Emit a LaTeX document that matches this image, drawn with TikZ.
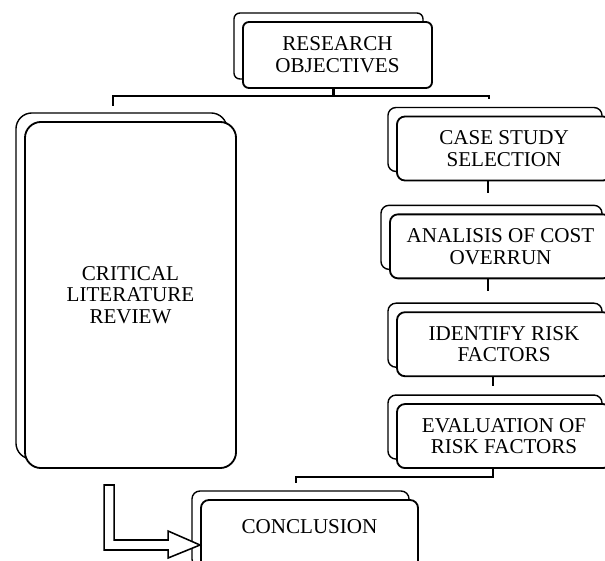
\documentclass[tikz,border=0pt]{standalone}
\usepackage{fontspec}
\setmainfont{Liberation Serif}
\usetikzlibrary{positioning,shadows}

\begin{document}
\begin{tikzpicture}[x=0.025cm, y=-0.025cm,
stackbox/.style={rectangle, draw=black, fill=white, line width=1.3pt, rounded corners=0.2cm, inner sep=0pt, align=center, font=\fontsize{15}{15.5}\selectfont,
  copy shadow={shadow xshift=-0.225cm, shadow yshift=0.225cm, draw=black, fill=white, line width=1pt}},
stepbox/.style={stackbox, minimum width=5.35cm, minimum height=1.6cm},
link/.style={draw=black, line width=2pt},
hollowarrow/.style={draw=black, fill=white, line width=1.1pt, line join=miter},
]
\path[use as bounding box, clip] (0,0) rectangle (605,560);
%Nodes
\node[stackbox, rounded corners=0.15cm, minimum width=4.725cm, minimum height=1.65cm] (Obj) at (337.5,55) {RESEARCH\\OBJECTIVES};
\node[stackbox, rounded corners=0.4cm, minimum width=5.275cm, minimum height=8.65cm] (Review) at (130.5,295) {CRITICAL\\LITERATURE\\REVIEW};
\node[stepbox] (Case) at (504,148.5) {CASE STUDY\\SELECTION};
\node[stepbox, minimum width=5.525cm] (Overrun) [below=0.8cm of Case, xshift=-0.0875cm] {ANALISIS OF COST\\OVERRUN};
\node[stepbox] (Risk) [below=0.8cm of Overrun, xshift=0.0875cm] {IDENTIFY RISK\\FACTORS};
\node[stepbox] (Eval) [below=0.65cm of Risk] {EVALUATION OF\\RISK FACTORS};
\node[stackbox, minimum width=5.425cm, minimum height=1.9cm, text depth=0.55cm] (Concl) at (309.5,538) {CONCLUSION};

%Lines
\coordinate (HookL) at (113,106);
\coordinate (HookR) at (489,99);
\coordinate (HookC) at (296,483);
\draw[link] ([xshift=-0.1cm]Obj.south) -- ++(0,7) -| (HookL);
\draw[link] ([xshift=-0.1cm]Obj.south) -- ++(0,7) -| (HookR);
\draw[link] ([xshift=-0.4cm]Case.south) -- ++(0,12);
\draw[link] ([xshift=-0.3125cm]Overrun.south) -- ++(0,12);
\draw[link] ([xshift=-0.275cm]Risk.south) -- ++(0,9);
\draw[link] ([xshift=-0.275cm]Eval.south) -- ++(0,8) -| (HookC);
\draw[hollowarrow] ([yshift=-0.175cm]Concl.west) -- ++(-32,-14) -- ++(0,9) -- ++(-54,0) -- ++(0,-55) -- ++(-10,0) -- ++(0,65) -- ++(64,0) -- ++(0,8) -- cycle;
\end{tikzpicture}
\end{document}
